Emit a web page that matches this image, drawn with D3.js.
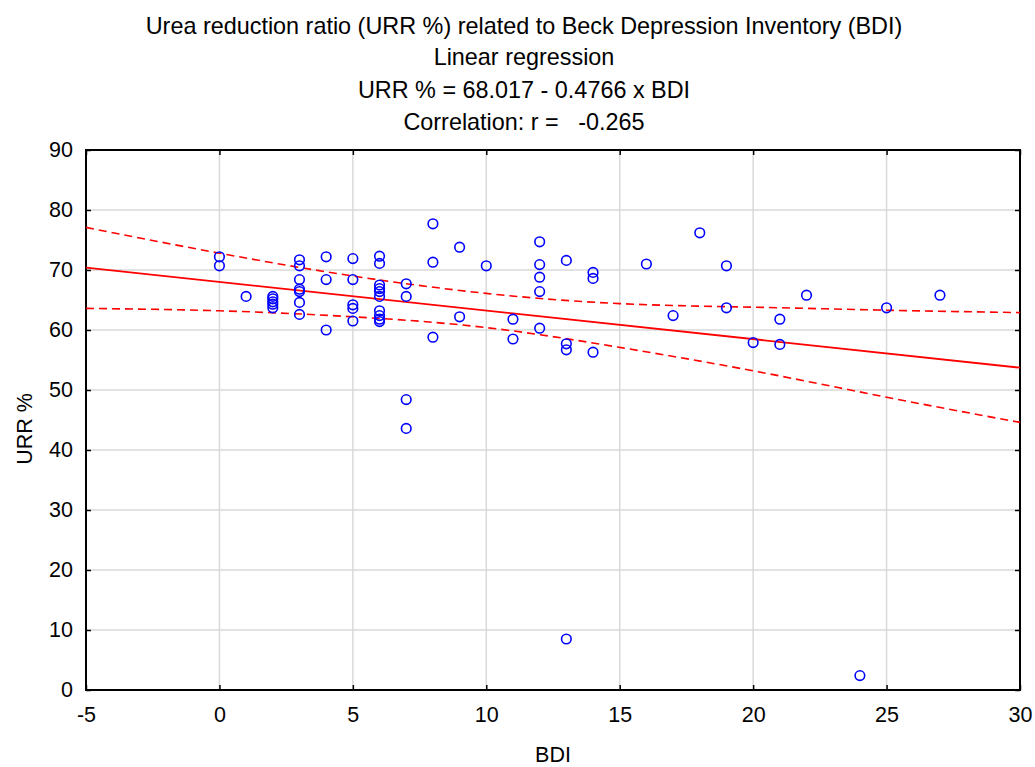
<!DOCTYPE html>
<html>
<head>
<meta charset="utf-8">
<script src="https://cdn.jsdelivr.net/npm/d3@7"></script>
<style>
  body { margin: 0; background: #fff; }
  text { font-family: "Liberation Sans", Arial, sans-serif; fill: #000; white-space: pre; }
</style>
</head>
<body>
<div id="chart"></div>
<script>
// BDI score and URR % for each patient
var bdi = [0, 0, 1, 2, 2, 2, 2, 2,
  3, 3, 3, 3, 3, 3, 3,
  4, 4, 4,
  5, 5, 5, 5, 5,
  6, 6, 6, 6, 6, 6, 6, 6, 6, 6,
  7, 7, 7, 7,
  8, 8, 8, 9, 9, 10, 11, 11,
  12, 12, 12, 12, 12,
  13, 13, 13, 13, 14, 14, 14,
  16, 17, 18, 19, 19, 20, 21, 21, 22, 24, 25, 27];
var urr = [72.2, 70.7, 65.6, 65.6, 65.2, 64.7, 64.3, 63.7,
  71.7, 70.7, 68.4, 66.8, 66.4, 64.6, 62.6,
  72.2, 68.4, 60.0,
  71.9, 68.4, 64.2, 63.6, 61.5,
  72.3, 71.1, 67.5, 66.9, 66.4, 65.6, 63.2, 62.4, 61.8, 61.4,
  67.7, 65.6, 48.4, 43.6,
  77.7, 71.3, 58.8, 73.8, 62.2, 70.7, 61.8, 58.5,
  74.7, 70.9, 68.8, 66.4, 60.3,
  71.6, 57.7, 56.7, 8.5, 69.6, 68.6, 56.3,
  71.0, 62.4, 76.2, 70.7, 63.7, 57.9, 61.8, 57.6, 65.8, 2.4, 63.7, 65.8];

// regression line from the title
var intercept = 68.017, slope = -0.4766;

// 95% confidence band
var bandX = [-5, 0, 5, 10, 15, 20, 25, 30];
var bandUpper = [77.1, 72.8, 69.0, 66.1, 64.4, 63.8, 63.3, 62.9];
var bandLower = [63.6, 63.2, 62.2, 60.4, 57.1, 53.2, 48.8, 44.6];

var xTicks = [-5, 0, 5, 10, 15, 20, 25, 30];
var yTicks = [0, 10, 20, 30, 40, 50, 60, 70, 80, 90];

var titles = ["Urea reduction ratio (URR %) related to Beck Depression Inventory (BDI)",
  "Linear regression",
  "URR % = 68.017 - 0.4766 x BDI",
  "Correlation: r =   -0.265"];

var W = 1035, H = 767;
var margin = {top: 150, right: 15, bottom: 77, left: 86},
    width = W - margin.left - margin.right,
    height = H - margin.top - margin.bottom;

var svg = d3.select("#chart").append("svg")
    .attr("width", W)
    .attr("height", H);

var titleY = [33.5, 65, 97.5, 130];
svg.selectAll(".title")
    .data(titles)
    .enter().append("text")
      .attr("x", 524)
      .attr("y", function(d, i) { return titleY[i]; })
      .attr("text-anchor", "middle")
      .style("font-size", "23.4px")
      .text(function(d) { return d; });

var g = svg.append("g")
    .attr("transform", "translate(" + margin.left + "," + margin.top + ")");

var x = d3.scaleLinear().domain([-5, 30]).range([0, width]);
var y = d3.scaleLinear().domain([0, 90]).range([height, 0]);

// grid
g.append("g").selectAll("line")
    .data(xTicks.slice(1, -1))
    .enter().append("line")
      .attr("x1", x).attr("x2", x)
      .attr("y1", 0).attr("y2", height)
      .attr("stroke", "#d9d9d9").attr("stroke-width", 1.5);
g.append("g").selectAll("line")
    .data(yTicks.slice(1, -1))
    .enter().append("line")
      .attr("y1", y).attr("y2", y)
      .attr("x1", 0).attr("x2", width)
      .attr("stroke", "#d9d9d9").attr("stroke-width", 1.5);

// axes, ticks inward on all four sides
function styleAxis(sel) {
  sel.select(".domain").remove();
  sel.selectAll(".tick line").attr("stroke", "#000").attr("stroke-width", 1.5);
  sel.selectAll("text").style("font-size", "21.5px").style("font-family", "Liberation Sans, Arial, sans-serif");
}
var plain = function(d) { return String(d); };
g.append("g")
    .attr("transform", "translate(0," + height + ")")
    .call(d3.axisBottom(x).tickValues(xTicks).tickFormat(plain).tickSizeInner(-5).tickPadding(17))
    .call(styleAxis);
g.append("g")
    .call(d3.axisLeft(y).tickValues(yTicks).tickFormat(plain).tickSizeInner(-5).tickPadding(13))
    .call(styleAxis);
g.append("g")
    .call(d3.axisTop(x).tickValues(xTicks).tickSizeInner(-5).tickFormat(""))
    .call(styleAxis);
g.append("g")
    .attr("transform", "translate(" + width + ",0)")
    .call(d3.axisRight(y).tickValues(yTicks).tickSizeInner(-5).tickFormat(""))
    .call(styleAxis);

g.append("rect")
    .attr("width", width).attr("height", height)
    .attr("fill", "none").attr("stroke", "#000").attr("stroke-width", 2);

// confidence band
var band = d3.line().curve(d3.curveNatural)
    .x(function(d) { return x(d[0]); })
    .y(function(d) { return y(d[1]); });
[bandUpper, bandLower].forEach(function(vals) {
  g.append("path")
      .datum(bandX.map(function(b, i) { return [b, vals[i]]; }))
      .attr("d", band)
      .attr("fill", "none")
      .attr("stroke", "#ff0000")
      .attr("stroke-width", 1.6)
      .attr("stroke-dasharray", "8,5");
});

// regression line
g.append("line")
    .attr("x1", x(-5)).attr("y1", y(intercept + slope * -5))
    .attr("x2", x(30)).attr("y2", y(intercept + slope * 30))
    .attr("stroke", "#ff0000").attr("stroke-width", 1.8);

// points
g.selectAll("circle")
    .data(bdi)
    .enter().append("circle")
      .attr("cx", function(d) { return x(d); })
      .attr("cy", function(d, i) { return y(urr[i]); })
      .attr("r", 4.8)
      .attr("fill", "none")
      .attr("stroke", "#0000ff")
      .attr("stroke-width", 1.6);

// axis titles
svg.append("text")
    .attr("x", margin.left + width / 2)
    .attr("y", 762)
    .attr("text-anchor", "middle")
    .style("font-size", "21.5px")
    .text("BDI");
svg.append("text")
    .attr("transform", "translate(32,429)rotate(-90)")
    .attr("text-anchor", "middle")
    .style("font-size", "21.5px")
    .text("URR %");
</script>
</body>
</html>
